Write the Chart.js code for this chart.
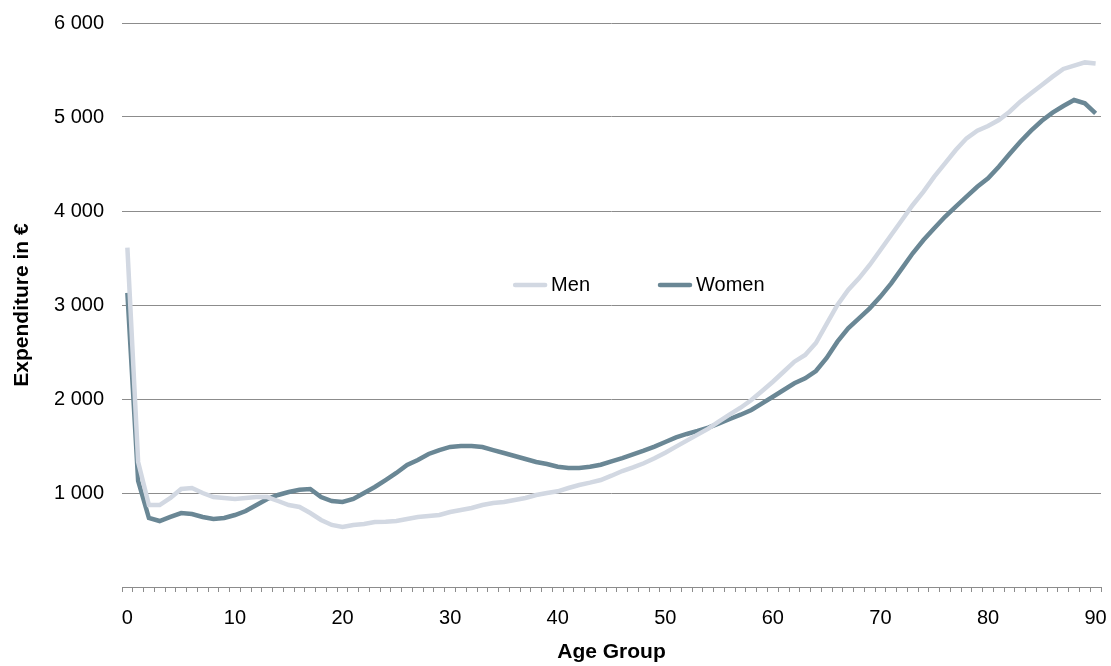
<!DOCTYPE html>
<html>
<head>
<meta charset="utf-8">
<title>Expenditure by age group</title>
<script src="https://cdn.jsdelivr.net/npm/chart.js@4.4.1/dist/chart.umd.min.js"></script>
<style>
  html, body { margin: 0; padding: 0; background: #fff; }
  #wrap { width: 1111px; height: 666px; }
</style>
</head>
<body>
<div id="wrap"><canvas id="expenditureChart" width="1111" height="666"></canvas></div>
<script>
// Age groups 0..90 (one category per year of age)
const ages = [];
for (let a = 0; a <= 90; a++) ages.push(String(a));

// Expenditure in euro
const men = [
  3610, 1330, 872, 872, 947, 1043, 1053, 1000, 957, 947,
  936, 947, 957, 957, 915, 872, 851, 787, 713, 660,
  638, 660, 670, 691, 695, 702, 723, 745, 755, 766,
  798, 819, 840, 872, 894, 904, 926, 947, 979, 1000,
  1018, 1053, 1085, 1110, 1138, 1184, 1234, 1273, 1316, 1369,
  1429, 1493, 1557, 1621, 1684, 1763, 1837, 1907, 1989, 2085,
  2184, 2290, 2397, 2468, 2596, 2800, 3000, 3160, 3284, 3426,
  3585, 3745, 3904, 4064, 4206, 4365, 4507, 4649, 4773, 4854,
  4904, 4968, 5056, 5163, 5252, 5340, 5429, 5511, 5546, 5581,
  5570
];
const women = [
  3130, 1130, 734, 702, 745, 787, 776, 745, 723, 734,
  766, 808, 872, 936, 979, 1011, 1035, 1043, 957, 915,
  904, 936, 1000, 1064, 1138, 1213, 1298, 1351, 1415, 1457,
  1490, 1500, 1500, 1489, 1457, 1426, 1394, 1362, 1330, 1309,
  1280, 1266, 1266, 1280, 1301, 1337, 1372, 1411, 1450, 1493,
  1543, 1592, 1628, 1660, 1695, 1741, 1787, 1833, 1883, 1954,
  2024, 2096, 2167, 2220, 2298, 2436, 2610, 2752, 2858, 2965,
  3089, 3230, 3390, 3550, 3691, 3816, 3939, 4046, 4152, 4258,
  4347, 4471, 4606, 4737, 4854, 4960, 5046, 5117, 5181, 5146,
  5039
];

const xLabelEvery = 10;
const yMax = 6000;
const yStep = 1000;

const FONT = '"Liberation Sans", Arial, sans-serif';
const GRID = '#8c8c8c';

Chart.defaults.font.family = FONT;
Chart.defaults.font.size = 20;
Chart.defaults.color = '#000';

// legend drawn inside the plot, the way the original has it
const inlineLegend = {
  id: 'inlineLegend',
  afterDatasetsDraw(chart) {
    const ctx = chart.ctx;
    const area = chart.chartArea;
    let x = area.left + (area.right - area.left) * 0.3995;
    const y = area.top + (area.bottom - area.top) * 0.4645;
    ctx.save();
    ctx.font = '20px ' + FONT;
    ctx.textBaseline = 'middle';
    chart.data.datasets.forEach(function (ds) {
      ctx.strokeStyle = ds.borderColor;
      ctx.lineWidth = ds.borderWidth;
      ctx.lineCap = 'round';
      ctx.beginPath();
      ctx.moveTo(x + 2, y);
      ctx.lineTo(x + 32, y);
      ctx.stroke();
      ctx.fillStyle = '#000';
      ctx.fillText(ds.label, x + 38, y + 1);
      x += 38 + ctx.measureText(ds.label).width + 68;
    });
    ctx.restore();
  }
};

const ctx = document.getElementById('expenditureChart').getContext('2d');
const expenditureChart = new Chart(ctx, {
  type: 'line',
  data: {
    labels: ages,
    datasets: [{
      label: 'Men',
      data: men,
      borderColor: '#d2d8e2',
      borderWidth: 4.5,
      pointRadius: 0,
      tension: 0,
      fill: false
    }, {
      label: 'Women',
      data: women,
      borderColor: '#6a8795',
      borderWidth: 4.5,
      pointRadius: 0,
      tension: 0,
      fill: false
    }]
  },
  options: {
    responsive: false,
    animation: false,
    layout: { padding: { top: 23, right: 10, left: 0, bottom: 0 } },
    plugins: {
      legend: { display: false },
      tooltip: { enabled: false }
    },
    scales: {
      x: {
        type: 'category',
        offset: true,
        grid: {
          offset: true,
          drawOnChartArea: false,
          drawTicks: true,
          tickLength: 5,
          color: GRID
        },
        border: { display: true, color: GRID },
        ticks: {
          autoSkip: false,
          maxRotation: 0,
          padding: 14,
          callback: function (v, i) { return i % xLabelEvery === 0 ? ages[i] : ''; }
        },
        title: {
          display: true,
          text: 'Age Group',
          font: { size: 21, weight: 'bold' },
          padding: { top: 0, bottom: 1 }
        },
        afterFit: function (scale) {
          scale.height = 79;
          scale.paddingLeft = 0;
          scale.paddingRight = 0;
        }
      },
      y: {
        min: 0,
        max: yMax,
        border: { display: false },
        grid: {
          drawTicks: false,
          color: GRID
        },
        ticks: {
          stepSize: yStep,
          padding: 18,
          callback: function (v) {
            if (v === 0) return '';
            return String(v).replace(/\B(?=(\d{3})+(?!\d))/g, ' ');
          }
        },
        title: {
          display: true,
          text: 'Expenditure in €',
          font: { size: 21, weight: 'bold' },
          padding: { top: 10, bottom: 0 }
        },
        afterFit: function (scale) {
          scale.width = 122;
          scale.paddingTop = 0;
          scale.paddingBottom = 0;
        }
      }
    }
  },
  plugins: [inlineLegend]
});
</script>
</body>
</html>
